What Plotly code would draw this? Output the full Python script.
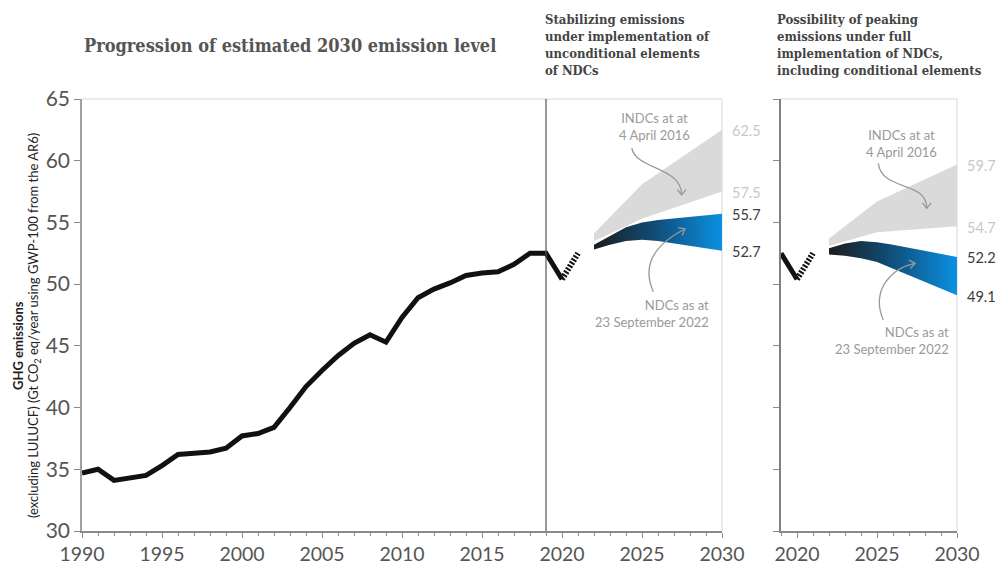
import numpy as np
import plotly.graph_objects as go

# Historical global GHG emissions, Gt CO2 eq/year
hist_years = list(range(1990, 2021))
hist_values = [34.7, 35.0, 34.1, 34.3, 34.5, 35.3, 36.2, 36.3, 36.4, 36.7,
               37.7, 37.9, 38.4, 40.0, 41.7, 43.0, 44.2, 45.2, 45.9, 45.3,
               47.3, 48.9, 49.6, 50.1, 50.7, 50.9, 51.0, 51.6, 52.5, 52.5, 50.4]

# Preliminary rebound after 2020
prelim_years = [2020, 2021]
prelim_values = [50.4, 52.5]

# Projection years
indc_years = [2022, 2025, 2030]
ndc_years = [2022, 2023, 2024, 2025, 2026, 2030]

# Unconditional elements
uncond_indc_high = [54.1, 58.1, 62.5]
uncond_indc_low = [53.5, 55.3, 57.5]
uncond_ndc_high = [53.2, 53.9, 54.6, 55.0, 55.2, 55.7]
uncond_ndc_low = [52.8, 53.2, 53.5, 53.6, 53.5, 52.7]

# Including conditional elements
cond_indc_high = [53.7, 56.7, 59.7]
cond_indc_low = [53.1, 54.2, 54.7]
cond_ndc_high = [52.9, 53.3, 53.5, 53.4, 53.2, 52.2]
cond_ndc_low = [52.4, 52.3, 52.1, 51.8, 51.3, 49.1]

W, H = 1003, 565
SANS = "Lato"
SERIF = "DejaVu Serif Condensed, DejaVu Serif"
GRAY_FILL = "#dadada"
BLUE_SCALE = [[0, "#1c1c1c"], [0.45, "#114a72"], [1, "#0a90e2"]]

# plot geometry (pixels)
X1 = (82, 722)
X2 = (781, 957)
Y_TOP, Y_BOT = 99, 531
PX_YR = 16.0
PX_UNIT = (Y_BOT - Y_TOP) / 35.0

fig = go.Figure()


def band(x, lo, hi, xa, ya, **kw):
    xs = list(x) + list(x)[::-1]
    ys = list(hi) + list(lo)[::-1]
    return go.Scatter(x=xs, y=ys, xaxis=xa, yaxis=ya, mode="lines",
                      fill="toself", line=dict(width=0), hoverinfo="skip",
                      showlegend=False, **kw)


for xa, ya, ih, il, nh, nl in [
        ("x", "y", uncond_indc_high, uncond_indc_low, uncond_ndc_high, uncond_ndc_low),
        ("x2", "y2", cond_indc_high, cond_indc_low, cond_ndc_high, cond_ndc_low)]:
    fig.add_trace(band(indc_years, il, ih, xa, ya, fillcolor=GRAY_FILL))
    fig.add_trace(band(ndc_years, nl, nh, xa, ya,
                       fillgradient=dict(type="horizontal", colorscale=BLUE_SCALE)))

# historical line, panel 1
fig.add_trace(go.Scatter(x=hist_years, y=hist_values, xaxis="x", yaxis="y",
                         mode="lines", line=dict(color="#111111", width=5),
                         showlegend=False, hoverinfo="skip"))
# historical tail, panel 2
fig.add_trace(go.Scatter(x=hist_years[-2:], y=hist_values[-2:], xaxis="x2", yaxis="y2",
                         mode="lines", line=dict(color="#111111", width=5),
                         showlegend=False, hoverinfo="skip"))
for xa, ya in [("x", "y"), ("x2", "y2")]:
    fig.add_trace(go.Scatter(x=prelim_years, y=prelim_values, xaxis=xa, yaxis=ya,
                             mode="lines",
                             line=dict(color="#111111", width=6, dash="2px,1.6px"),
                             showlegend=False, hoverinfo="skip"))

shapes = []
annotations = []

# panel frames
for xref in ("x domain", "x2 domain"):
    shapes.append(dict(type="line", xref=xref, yref="y domain", x0=0, x1=1, y0=1, y1=1,
                       line=dict(color="#e4e4e4", width=1.5), layer="below"))
    shapes.append(dict(type="line", xref=xref, yref="y domain", x0=1, x1=1, y0=0, y1=1,
                       line=dict(color="#e4e4e4", width=1.5), layer="below"))
# base-year divider
shapes.append(dict(type="line", xref="x", yref="y domain", x0=2019, x1=2019, y0=0, y1=1,
                   line=dict(color="#555555", width=1.2)))


def curved_arrow(p0, c1, c2, p1, xref, yref, color="#9a9a9a"):
    path = (f"M {p0[0]},{p0[1]} C {c1[0]},{c1[1]} {c2[0]},{c2[1]} {p1[0]},{p1[1]}")
    dx = (p1[0] - c2[0]) * PX_YR
    dy = (p1[1] - c2[1]) * PX_UNIT
    ang = np.arctan2(dy, dx)
    L = 7.0
    pts = []
    for s in (1, -1):
        a = ang + np.pi + s * np.radians(38)
        pts.append((p1[0] + L * np.cos(a) / PX_YR, p1[1] + L * np.sin(a) / PX_UNIT))
    head = (f"M {pts[0][0]},{pts[0][1]} L {p1[0]},{p1[1]} L {pts[1][0]},{pts[1][1]}")
    line = dict(color=color, width=1.3)
    return [dict(type="path", path=path, xref=xref, yref=yref, line=line),
            dict(type="path", path=head, xref=xref, yref=yref, line=line)]


shapes += curved_arrow((2024.36, 61.03), (2024.63, 59.25), (2027.48, 59.52),
                       (2027.48, 57.22), "x", "y")
shapes += curved_arrow((2025.71, 49.39), (2024.88, 51.79), (2026.1, 53.42),
                       (2027.69, 54.47), "x", "y")
shapes += curved_arrow((2025.08, 59.79), (2025.31, 57.47), (2028.11, 58.44),
                       (2028.11, 56.14), "x2", "y2")
shapes += curved_arrow((2025.39, 47.09), (2024.6, 49.53), (2025.9, 51.3),
                       (2027.38, 51.69), "x2", "y2")

# annotation texts
note_font = dict(family=SANS, size=13, color="#9a9a9a")
for xref, yref, x, y, anchor, txt in [
        ("x", "y", 2025.75, 62.8, "center", "INDCs at at<br>4 April 2016"),
        ("x", "y", 2029.31, 47.62, "right", "NDCs as at<br>23 September 2022"),
        ("x2", "y2", 2026.5, 61.43, "center", "INDCs at at<br>4 April 2016"),
        ("x2", "y2", 2029.62, 45.47, "right", "NDCs as at<br>23 September 2022")]:
    annotations.append(dict(xref=xref, yref=yref, x=x, y=y, text=txt, showarrow=False,
                            xanchor=anchor, yanchor="middle", align=anchor, font=note_font))

# end-of-range value labels
for xref, yref, hi, lo, nhi, nlo in [
        ("x", "y", uncond_indc_high, uncond_indc_low, uncond_ndc_high, uncond_ndc_low),
        ("x2", "y2", cond_indc_high, cond_indc_low, cond_ndc_high, cond_ndc_low)]:
    for v, col in [(hi[-1], "#c8c8c8"), (lo[-1], "#c8c8c8"),
                   (nhi[-1], "#3c3c3c"), (nlo[-1], "#3c3c3c")]:
        annotations.append(dict(xref=xref, yref=yref, x=2030, y=v, text=f"{v:.1f}",
                                showarrow=False, xanchor="left", yanchor="middle",
                                xshift=8, yshift=-1,
                                font=dict(family=SANS, size=14.5, color=col)))

# titles
annotations.append(dict(xref="paper", yref="paper", x=X1[0] / W, y=1 - 46 / H,
                        text="Progression of estimated 2030 emission level",
                        showarrow=False, xanchor="left", yanchor="middle",
                        font=dict(family=SERIF, size=18, color="#555555", weight="bold")))
annotations.append(dict(xref="paper", yref="paper", x=543 / W, y=1 - 10 / H,
                        text="Stabilizing emissions<br>under implementation of<br>"
                             "unconditional elements<br>of NDCs",
                        showarrow=False, xanchor="left", yanchor="top", align="left",
                        font=dict(family=SERIF, size=13, color="#444444", weight="bold")))
annotations.append(dict(xref="paper", yref="paper", x=775 / W, y=1 - 10 / H,
                        text="Possibility of peaking<br>emissions under full<br>"
                             "implementation of NDCs,<br>including conditional elements",
                        showarrow=False, xanchor="left", yanchor="top", align="left",
                        font=dict(family=SERIF, size=13, color="#444444", weight="bold")))

# y-axis title, two lines
annotations.append(dict(xref="paper", yref="paper", x=18 / W, y=1 - 346 / H,
                        text="<b>GHG emissions</b>", textangle=-90, showarrow=False,
                        xanchor="center", yanchor="middle",
                        font=dict(family=SANS, size=13, color="#222222")))
annotations.append(dict(xref="paper", yref="paper", x=34 / W, y=1 - 326 / H,
                        text="(excluding LULUCF) (Gt CO<sub>2</sub> eq/year using GWP-100 from the AR6)",
                        textangle=-90, showarrow=False,
                        xanchor="center", yanchor="middle",
                        font=dict(family=SANS, size=13, color="#222222")))

ydom = [1 - Y_BOT / H, 1 - Y_TOP / H]
xaxis_common = dict(showgrid=False, zeroline=False, showline=True, linecolor="#8a8a8a",
                    linewidth=1.5, ticks="outside", ticklen=5, tickwidth=1.2,
                    tickcolor="#8a8a8a", dtick=5, automargin=False,
                    tickfont=dict(family=SANS, size=19.5, color="#555555"),
                    minor=dict(ticks="outside", ticklen=3, tickwidth=1, tickcolor="#8a8a8a",
                               dtick=1))
yaxis_common = dict(range=[30, 65], domain=ydom, showgrid=False, zeroline=False,
                    showline=True, linewidth=1.5, ticks="outside", ticklen=6,
                    tickwidth=1.2, tickcolor="#8a8a8a", dtick=5, automargin=False)

fig.update_layout(
    template="none",
    width=W, height=H,
    margin=dict(l=0, r=0, t=0, b=0, autoexpand=False),
    paper_bgcolor="white", plot_bgcolor="white",
    showlegend=False,
    xaxis=dict(domain=[X1[0] / W, X1[1] / W], range=[1990, 2030], anchor="y",
               tick0=1990, **xaxis_common),
    xaxis2=dict(domain=[X2[0] / W, X2[1] / W], range=[2019, 2030], anchor="y2",
                tick0=2020, **xaxis_common),
    yaxis=dict(anchor="x", linecolor="#a0a0a0",
               tickfont=dict(family=SANS, size=21, color="#555555"), **yaxis_common),
    yaxis2=dict(anchor="x2", matches="y", linecolor="#808080", showticklabels=False,
                **yaxis_common),
    shapes=shapes,
    annotations=annotations,
)

fig.write_html("out.html")
